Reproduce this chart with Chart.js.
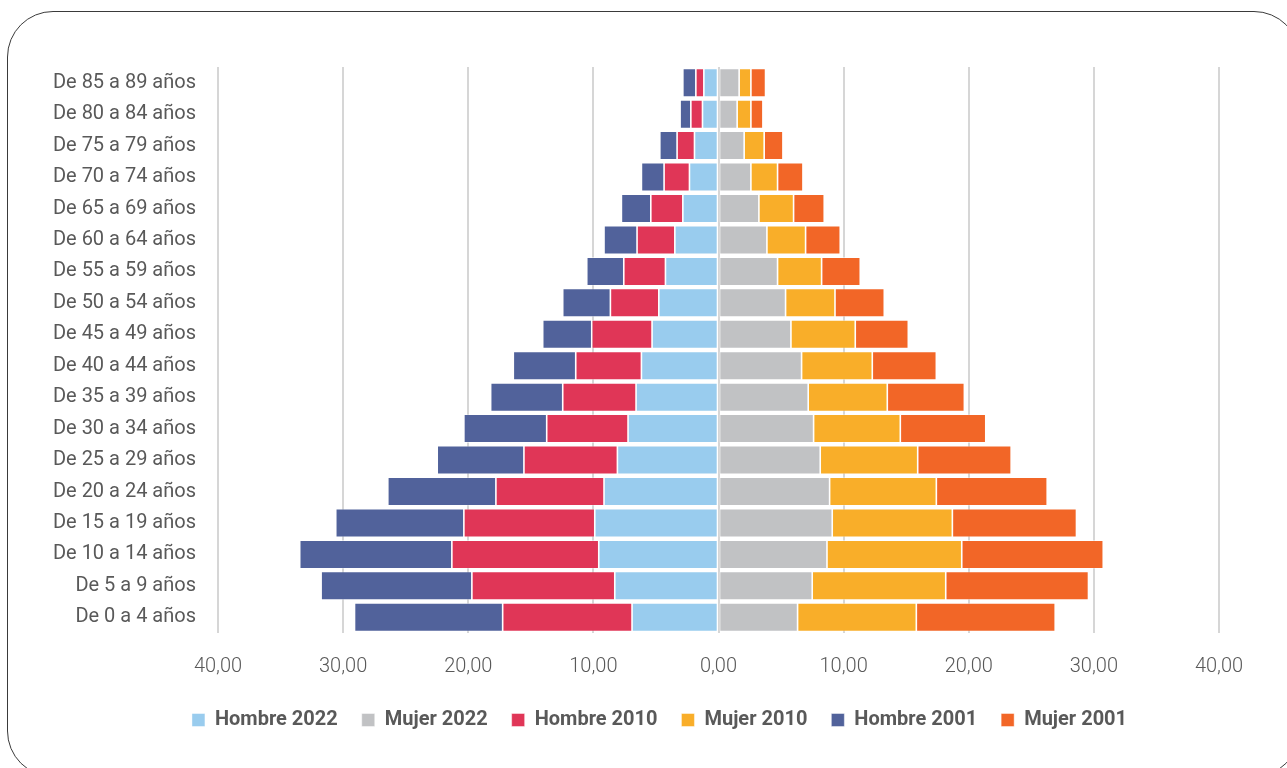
<!DOCTYPE html>
<html>
<head>
<meta charset="utf-8">
<script src="https://cdn.jsdelivr.net/npm/chart.js@4.4.1/dist/chart.umd.min.js"></script>
<style>
  html, body { margin: 0; padding: 0; background: #ffffff; overflow: hidden; }
  body { width: 1287px; height: 768px; position: relative; }
  #frame { position: absolute; left: 7px; top: 11px; width: 1293px; height: 766px;
           border: 1.3px solid #3a3a3a; border-radius: 46px; box-sizing: border-box; }
  #wrap { position: absolute; left: 0; top: 0; width: 1287px; height: 768px; }
</style>
</head>
<body>
<div id="frame"></div>
<div id="wrap"><canvas id="c" width="1287" height="768"></canvas></div>
<script>
// Age groups, top to bottom as shown
const categories = [
  "De 85 a 89 años", "De 80 a 84 años", "De 75 a 79 años", "De 70 a 74 años",
  "De 65 a 69 años", "De 60 a 64 años", "De 55 a 59 años", "De 50 a 54 años",
  "De 45 a 49 años", "De 40 a 44 años", "De 35 a 39 años", "De 30 a 34 años",
  "De 25 a 29 años", "De 20 a 24 años", "De 15 a 19 años", "De 10 a 14 años",
  "De 5 a 9 años", "De 0 a 4 años"
];

// Percentages (men shown on the left as negative values)
const hombre2022 = [1.17, 1.28, 1.92, 2.32, 2.85, 3.49, 4.24, 4.77, 5.31, 6.16, 6.59, 7.23, 8.08, 9.15, 9.89, 9.57, 8.29, 6.91];
const mujer2022  = [1.65, 1.49, 2.05, 2.59, 3.23, 3.87, 4.72, 5.36, 5.79, 6.64, 7.17, 7.60, 8.13, 8.88, 9.09, 8.67, 7.49, 6.32];
const hombre2010 = [0.64, 0.93, 1.39, 2.03, 2.56, 3.02, 3.33, 3.87, 4.82, 5.25, 5.86, 6.50, 7.47, 8.64, 10.46, 11.74, 11.42, 10.34];
const mujer2010  = [0.94, 1.10, 1.60, 2.13, 2.77, 3.09, 3.52, 3.95, 5.14, 5.65, 6.32, 6.93, 7.79, 8.53, 9.60, 10.77, 10.67, 9.49];
const hombre2001 = [1.04, 0.86, 1.38, 1.81, 2.35, 2.64, 2.96, 3.81, 3.92, 4.99, 5.76, 6.62, 6.93, 8.64, 10.24, 12.16, 12.05, 11.84];
const mujer2001  = [1.17, 0.96, 1.50, 2.03, 2.45, 2.77, 3.09, 3.94, 4.24, 5.12, 6.16, 6.83, 7.47, 8.86, 9.92, 11.31, 11.41, 11.10];

const xTicksMin = -40, xTicksMax = 40, xStep = 10;

const neg = a => a.map(v => -v);

function ds(label, data, color) {
  return {
    label, data, backgroundColor: color,
    borderColor: 'rgba(255,255,255,0.55)', borderWidth: 0.8, borderSkipped: false,
    barPercentage: 0.91, categoryPercentage: 1.0
  };
}

const txt = '#595959';

// shift the legend horizontally so it sits where the original does
const legendShift = {
  id: 'legendShift',
  afterLayout(chart) {
    if (chart.legend) { chart.legend.left += 50; chart.legend.right += 50; }
  }
};

new Chart(document.getElementById('c'), {
  type: 'bar',
  data: {
    labels: categories,
    datasets: [
      ds('Hombre 2022', neg(hombre2022), '#99CCEE'),
      ds('Mujer 2022', mujer2022, '#C1C2C4'),
      ds('Hombre 2010', neg(hombre2010), '#E03657'),
      ds('Mujer 2010', mujer2010, '#F9AE29'),
      ds('Hombre 2001', neg(hombre2001), '#51629B'),
      ds('Mujer 2001', mujer2001, '#F26627')
    ]
  },
  plugins: [legendShift],
  options: {
    indexAxis: 'y',
    responsive: false,
    animation: false,
    layout: { padding: { left: 0, right: 68, top: 67, bottom: 28 } },
    scales: {
      x: {
        stacked: true,
        min: xTicksMin, max: xTicksMax,
        afterFit: s => { s.height = 53; },
        ticks: {
          stepSize: xStep, padding: 22, color: txt,
          font: { family: 'Roboto', size: 20, weight: '300' },
          callback: v => Math.abs(v).toFixed(2).replace('.', ',')
        },
        grid: { color: '#D6D6D6', lineWidth: 2, drawTicks: false },
        border: { display: false }
      },
      y: {
        stacked: true,
        afterFit: s => { s.width = 218; },
        ticks: { padding: 22, color: txt, font: { family: 'Roboto', size: 20, weight: '400' } },
        grid: { display: false, drawTicks: false },
        border: { display: false }
      }
    },
    plugins: {
      tooltip: { enabled: false },
      legend: {
        position: 'bottom',
        labels: {
          boxWidth: 13, boxHeight: 13, padding: 24, color: txt,
          font: { family: 'Roboto', size: 20, weight: 'bold' }
        }
      }
    }
  }
});
</script>
</body>
</html>
